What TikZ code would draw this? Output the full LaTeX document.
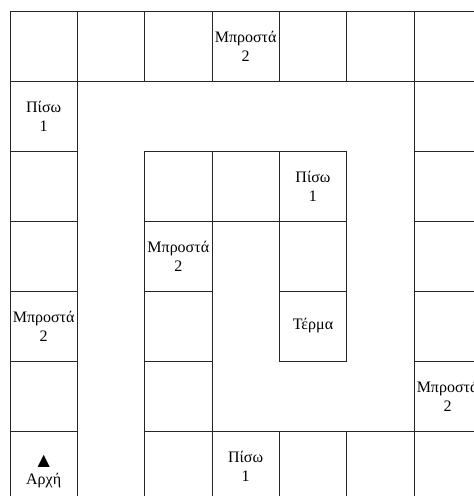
\documentclass[tikz,border=0pt]{standalone}
\usepackage{fontspec}
\setmainfont{Liberation Serif}
\newfontfamily\symbolfont{DejaVu Sans}
\usepackage{tikz}

\begin{document}
\begin{tikzpicture}[
    x=67.33pt, y=-70pt,
    square/.style = {rectangle, draw=black!85, line width=0.8pt, minimum width=67.33pt, minimum height=70pt, inner sep=0pt, align=center, font=\fontsize{16}{19}\selectfont}
]

% Page frame (right column and bottom row run off the page)
\useasboundingbox (-0.6485,-0.657) rectangle (6.377,6.429);

% Left column, going up from the start
\node (sq1) [square] at (0, 6) {\raisebox{-19pt}[0pt][0pt]{\shortstack{{\symbolfont ▲}\\[3pt]Αρχή}}};
\node (sq2) [square] at (0, 5) {};
\node (sq3) [square] at (0, 4) {Μπροστά\\2};
\node (sq4) [square] at (0, 3) {};
\node (sq5) [square] at (0, 2) {};
\node (sq6) [square] at (0, 1) {Πίσω\\1};
\node (sq7) [square] at (0, 0) {};

% Top row, going right
\node (sq8) [square] at (1, 0) {};
\node (sq9) [square] at (2, 0) {};
\node (sq10) [square] at (3, 0) {Μπροστά\\2};
\node (sq11) [square] at (4, 0) {};
\node (sq12) [square] at (5, 0) {};
\node (sq13) [square] at (6, 0) {};

% Right column, going down
\node (sq14) [square] at (6, 1) {};
\node (sq15) [square] at (6, 2) {};
\node (sq16) [square] at (6, 3) {};
\node (sq17) [square] at (6, 4) {};
\node (sq18) [square] at (6, 5) {Μπροστά\\2};
\node (sq19) [square] at (6, 6) {};

% Bottom row, going left
\node (sq20) [square] at (5, 6) {};
\node (sq21) [square] at (4, 6) {};
\node (sq22) [square] at (3, 6) {Πίσω\\1};
\node (sq23) [square] at (2, 6) {};

% Inner column, going up
\node (sq24) [square] at (2, 5) {};
\node (sq25) [square] at (2, 4) {};
\node (sq26) [square] at (2, 3) {Μπροστά\\2};
\node (sq27) [square] at (2, 2) {};

% Inner row and last stretch to the finish
\node (sq28) [square] at (3, 2) {};
\node (sq29) [square] at (4, 2) {Πίσω\\1};
\node (sq30) [square] at (4, 3) {};
\node (sq31) [square] at (4, 4) {Τέρμα};

\end{tikzpicture}
\end{document}
